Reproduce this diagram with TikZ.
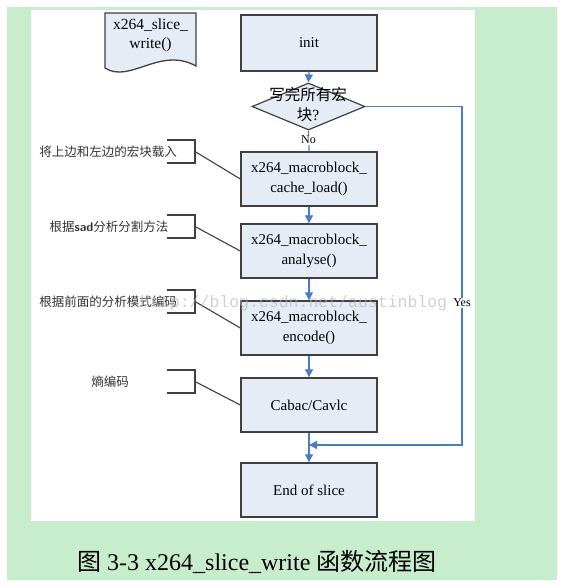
\documentclass[tikz,border=0pt]{standalone}
\usepackage{fontspec}
\setmainfont{Liberation Serif}
\newfontfamily\cjk{Noto Sans CJK SC}
\newfontfamily\wmfont{Liberation Mono}
\usetikzlibrary{arrows.meta,shapes.geometric}
\definecolor{bggreen}{HTML}{C7EDCC}
\definecolor{boxfill}{HTML}{E6ECF6}
\definecolor{boxline}{HTML}{404040}
\definecolor{flowblue}{HTML}{4A7CC4}
\begin{document}
\begin{tikzpicture}[x=1pt,y=-1pt,
  procbox/.style={draw=boxline, line width=1.4pt, fill=boxfill, minimum width=136pt,
    minimum height=54pt, inner sep=0pt, align=center, font=\fontsize{15}{20}\selectfont},
  flow/.style={draw=flowblue, line width=1.2pt, -{Triangle[width=8pt,length=8pt]}},
  plainflow/.style={draw=flowblue, line width=1.2pt},
  bracket/.style={draw=boxline, line width=1.1pt},
  annot/.style={font=\cjk\fontsize{12.5}{14}\selectfont, text=black!80, inner sep=0pt},
  smalllab/.style={fill=white, inner sep=1pt, font=\fontsize{12}{14}\selectfont}
]
\useasboundingbox (0,0) rectangle (569,588);
\fill[white] (0,0) rectangle (569,588);
\fill[bggreen] (7,7) rectangle (557,580);
\fill[white] (31,10) rectangle (475,521);

% document shape
\draw[draw=boxline, line width=1.3pt, fill=boxfill] (105,13) -- (196,13) -- (196,66)
  .. controls (160,46) and (130,84) .. (105,68) -- cycle;
\node[align=center, font=\fontsize{15.5}{19}\selectfont] (doc) at (150.5,35.5) {x264\_slice\_\\write()};

% process boxes
\node[procbox, minimum height=56pt] (init) at (309,43) {init};
\node[draw=boxline, line width=1.2pt, fill=boxfill, diamond, minimum width=113pt,
  minimum height=47pt, inner sep=0pt] (dec) at (308.5,106.5) {};
\node[align=center, font=\cjk\fontsize{15.5}{20}\selectfont] (dectext) at (308,105) {写完所有宏\\块{\rmfamily ?}};
\node[procbox] (cache) at (309,179) {x264\_macroblock\_\\cache\_load()};
\node[procbox] (analyse) at (309,251) {x264\_macroblock\_\\analyse()};
\node[procbox] (encode) at (309,328) {x264\_macroblock\_\\encode()};
\node[procbox] (cabac) at (309,405) {Cabac/Cavlc};
\node[procbox] (endslice) at (309,490) {End of slice};

% connectors
\draw[flow] (init.south) -- (dec.north);
\draw[plainflow] (dec.south) -- (cache.north);
\node[smalllab] (nolab) at (308.5,140) {No};
\draw[flow] (cache.south) -- (analyse.north);
\draw[flow] (analyse.south) -- (encode.north);
\draw[flow] (encode.south) -- (cabac.north);
\coordinate (merge) at (309,445);
\draw[flow] (cabac.south) -- (endslice.north);
\draw[flow] (dec.east) -- (462,106.5) -- (462,445) -- (merge);
\node[smalllab] (yeslab) at (462,303) {Yes};

% annotations
\coordinate (b1) at (195,151.5);
\draw[bracket] (167,140) -- (195,140) -- (195,163) -- (167,163);
\draw[bracket] (b1) -- (cache.west);
\node[annot] (t1) at (108,151.5) {将上边和左边的宏块载入};

\coordinate (b2) at (195,226.5);
\draw[bracket] (167,215) -- (195,215) -- (195,238) -- (167,238);
\draw[bracket] (b2) -- (analyse.west);
\node[annot] (t2) at (109,226.5) {根据{\sffamily\bfseries sad}分析分割方法};

\coordinate (b3) at (195,301.5);
\draw[bracket] (167,290) -- (195,290) -- (195,313) -- (167,313);
\draw[bracket] (b3) -- (encode.west);
\node[annot] (t3) at (108,301.5) {根据前面的分析模式编码};

\coordinate (b4) at (195,381.5);
\draw[bracket] (167,370) -- (195,370) -- (195,393) -- (167,393);
\draw[bracket] (b4) -- (cabac.west);
\node[annot] (t4) at (110,381.5) {熵编码};

% watermark
\node[font=\wmfont\fontsize{16.5}{18}\selectfont, text=black!30, opacity=0.6, anchor=west, inner sep=0pt] (wm) at (140,303) {http://blog.csdn.net/austinblog};

% caption
\node[font=\fontsize{24}{28}\selectfont, anchor=west, inner sep=0pt] (cap) at (77,562) {{\cjk 图} 3-3 x264\_slice\_write {\cjk 函数流程图}};
\end{tikzpicture}
\end{document}
